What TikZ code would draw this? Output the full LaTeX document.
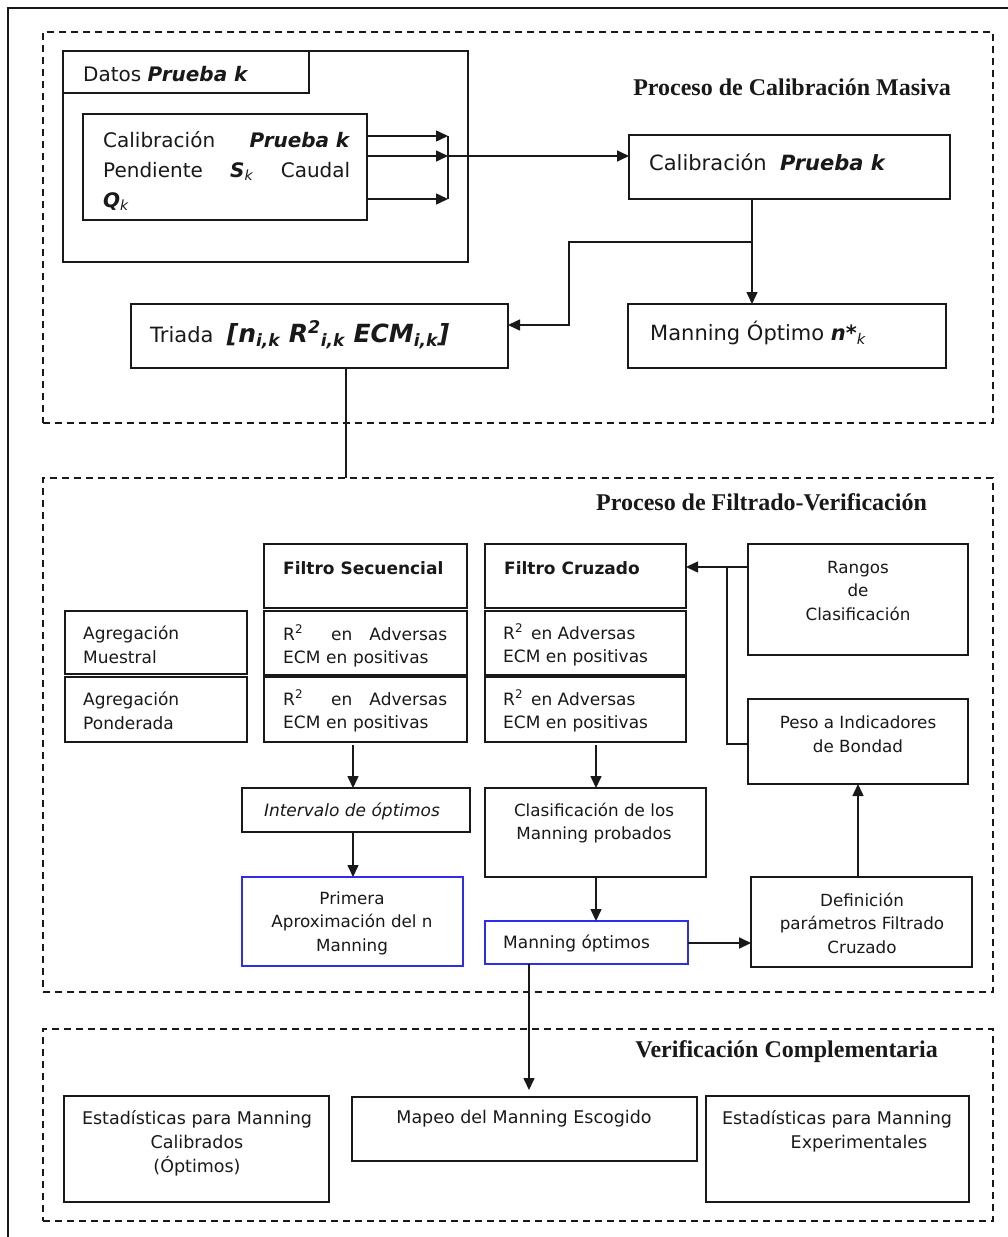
\documentclass[tikz,border=0pt]{standalone}
\usepackage{fontspec}
\setmainfont{DejaVu Sans}
\newfontfamily\headfont{Liberation Serif}
\usetikzlibrary{arrows.meta}

\definecolor{boxblue}{RGB}{45,45,235}
\definecolor{ink}{RGB}{25,25,25}

\tikzset{
  frame/.style={rectangle, draw=ink, line width=1.8pt, inner sep=0pt, outer sep=0pt},
  bluebox/.style={frame, draw=boxblue},
  region/.style={rectangle, draw=ink, line width=1.5pt, dash pattern=on 7pt off 5pt, inner sep=0pt, outer sep=0pt},
  wire/.style={draw=ink, line width=1.5pt},
  arr/.style={wire, -{Triangle[length=12pt,width=11pt]}},
  txt/.style={inner sep=0pt, text=ink, font=\fontsize{16.75}{23.5}\selectfont},
  small/.style={inner sep=0pt, text=ink, font=\fontsize{17}{23.5}\selectfont},
  low/.style={inner sep=0pt, text=ink, font=\fontsize{17.5}{24}\selectfont},
  big/.style={inner sep=0pt, text=ink, font=\fontsize{20}{30}\selectfont},
  bigger/.style={inner sep=0pt, text=ink, font=\fontsize{21}{30}\selectfont},
  head/.style={inner sep=0pt, text=ink, font=\headfont\bfseries\fontsize{24}{24}\selectfont},
}

% \rectnode[style]{x1}{y1}{x2}{y2}{name}: an empty box spanning the given corners
\newcommand\rectnode[6][frame]{%
  \node[#1, minimum width={#4-#2}, minimum height={#5-#3}] (#6) at ({(#2+#4)/2},{(#3+#5)/2}) {};}
\newcommand\bi[1]{\textbf{\textit{#1}}}
% index set for the triad symbols
\newcommand\ik{\textsubscript{\fontsize{17}{17}\selectfont i,k}}

\begin{document}
\begin{tikzpicture}[x=1pt,y=-1pt]
\useasboundingbox[fill=white] (0,0) rectangle (1008,1237);

% page frame
\draw[line width=2pt, ink] (8,1237) -- (8,8) -- (1008,8);

% the three process regions
\rectnode[region]{43}{32}{993}{423}{zoneA}
\rectnode[region]{43}{478}{993}{992}{zoneB}
\rectnode[region]{43}{1029}{993}{1221}{zoneC}

\node[head, anchor=east] (hA) at (951,87) {Proceso de Calibración Masiva};
\node[head, anchor=east] (hB) at (927,502) {Proceso de Filtrado-Verificación};
\node[head, anchor=east] (hC) at (938,1052) {Verificación Complementaria};

% ---------- calibration ----------
\rectnode{63}{51}{468}{262}{datos}
\rectnode{63}{51}{309}{93}{datostab}
\node[big, anchor=west] (tDatos) at (83,74) {Datos \bi{Prueba k}};

\rectnode{83}{114}{367}{220}{calin}
\node[big, anchor=north west, text width=247pt] (tCalin) at (103,131)
  {Calibración\hfill\bi{Prueba k}\\
   Pendiente\hfill\bi{S}\textsubscript{\textit{k}}\hfill Caudal\\
   \bi{Q}\textsubscript{\textit{k}}};

\rectnode{629}{135}{950}{199}{calp}
\node[bigger, anchor=west] (tCalp) at (649,162) {Calibración \ \bi{Prueba k}};

\rectnode{131}{304}{508}{368}{triada}
\node[bigger, anchor=west] (tTriada) at (150,335)
  {Triada\ \ {\fontsize{25}{30}\selectfont\bi{[n\ik\ R\textsuperscript{2}\ik\ ECM\ik]}}};

\rectnode{628}{304}{946}{368}{nopt}
\node[bigger, anchor=west] (tNopt) at (650,333) {Manning Óptimo \bi{n*}\textsubscript{\textit{k}}};

\coordinate (yA1) at (0,136);
\coordinate (yA2) at (0,156);
\coordinate (yA3) at (0,199);
\coordinate (xJ) at (448,0);
\draw[arr] (calin.east |- yA1) -- (xJ |- yA1);
\draw[arr] (calin.east |- yA2) -- (xJ |- yA2);
\draw[arr] (calin.east |- yA3) -- (xJ |- yA3);
\draw[wire] (xJ |- yA1) -- (xJ |- yA3);
\draw[arr] (xJ |- yA2) -- (calp.west |- yA2);

\coordinate (xC) at (752,0);
\draw[arr] (calp.south -| xC) -- (nopt.north -| xC);
\coordinate (br) at (752,242);
\coordinate (bA) at (569,242);
\coordinate (bB) at (569,325);
\draw[arr] (br) -- (bA) -- (bB) -- (triada.east |- bB);

\coordinate (xT) at (346,0);
\draw[wire] (triada.south -| xT) -- (zoneB.north -| xT);

% ---------- filtering ----------
\rectnode{264}{544}{467}{608}{fseq}
\node[txt, anchor=west, font=\bfseries\fontsize{17}{20}\selectfont] (tFseq) at (283,568) {Filtro Secuencial};
\rectnode{485}{544}{686}{608}{fcru}
\node[txt, anchor=west, font=\bfseries\fontsize{17}{20}\selectfont] (tFcru) at (504,568) {Filtro Cruzado};

\rectnode{748}{544}{968}{655}{rangos}
\node[txt, align=center] (tRangos) at (858,591) {Rangos\\de\\Clasificación};

\rectnode{65}{611}{247}{674}{agm}
\node[small, anchor=west, align=left] (tAgm) at (83,645) {Agregación\\Muestral};
\rectnode{65}{677}{247}{742}{agp}
\node[small, anchor=west, align=left] (tAgp) at (83,711) {Agregación\\Ponderada};

\rectnode{264}{611}{467}{675}{sq1}
\node[small, anchor=west, text width=164pt] (tSq1) at (283,646)
  {R\textsuperscript{2}\hspace{28pt}en\hfill Adversas\\ECM en positivas};
\rectnode{264}{677}{467}{742}{sq2}
\node[small, anchor=west, text width=164pt] (tSq2) at (283,711)
  {R\textsuperscript{2}\hspace{28pt}en\hfill Adversas\\ECM en positivas};

\rectnode{485}{611}{686}{675}{cr1}
\node[small, anchor=west, align=left] (tCr1) at (503,645) {R\textsuperscript{2}\hspace{8pt}en Adversas\\ECM en positivas};
\rectnode{485}{677}{686}{742}{cr2}
\node[small, anchor=west, align=left] (tCr2) at (503,711) {R\textsuperscript{2}\hspace{8pt}en Adversas\\ECM en positivas};

\rectnode{242}{788}{470}{832}{interv}
\node[txt, font=\itshape\fontsize{17}{20}\selectfont] (tInterv) at (352,811) {Intervalo de óptimos};

\rectnode[bluebox]{242}{877}{463}{966}{primera}
\node[txt, align=center] (tPrimera) at (352,923) {Primera\\Aproximación del n\\Manning};

\rectnode{485}{788}{706}{877}{clasif}
\node[txt, align=center] (tClasif) at (594,823) {Clasificación de los\\Manning probados};

\rectnode[bluebox]{485}{921}{688}{964}{mopt}
\node[small, anchor=west] (tMopt) at (503,943) {Manning óptimos};

\rectnode{748}{699}{968}{784}{peso}
\node[txt, align=center] (tPeso) at (858,734) {Peso a Indicadores\\de Bondad};

\rectnode{751}{877}{972}{967}{defin}
\node[txt, align=center] (tDefin) at (862,923) {Definición\\parámetros Filtrado\\Cruzado};

\coordinate (xS) at (353,0);
\draw[arr, shorten <=3pt] (sq2.south -| xS) -- (interv.north -| xS);
\draw[arr] (interv.south -| xS) -- (primera.north -| xS);
\coordinate (xK) at (596,0);
\draw[arr, shorten <=3pt] (cr2.south -| xK) -- (clasif.north -| xK);
\draw[arr] (clasif.south -| xK) -- (mopt.north -| xK);
\coordinate (yM) at (0,943);
\draw[arr, line width=2pt] (mopt.east |- yM) -- (defin.west |- yM);
\coordinate (xP) at (858,0);
\draw[arr] (defin.north -| xP) -- (peso.south -| xP);
\coordinate (yR) at (0,567);
\coordinate (yQ) at (0,744);
\coordinate (xV) at (727,0);
\draw[arr] (peso.west |- yQ) -- (xV |- yQ) -- (xV |- yR) -- (fcru.east |- yR);
\draw[wire] (rangos.west |- yR) -- (xV |- yR);

% ---------- complementary checks ----------
\rectnode{64}{1096}{329}{1202}{estcal}
\node[low, align=center] (tEstcal) at (197,1143) {Estadísticas para Manning\\Calibrados\\(Óptimos)};
\rectnode{352}{1097}{697}{1161}{mapeo}
\node[low] (tMapeo) at (524,1119) {Mapeo del Manning Escogido};
\rectnode{706}{1096}{969}{1202}{estexp}
\node[low, align=center] (tEstexp) at (837,1131) {Estadísticas para Manning\\\hspace*{44pt}Experimentales};

\coordinate (xO) at (529,0);
\draw[arr, shorten >=7pt] (mopt.south -| xO) -- (mapeo.north -| xO);
\end{tikzpicture}
\end{document}
